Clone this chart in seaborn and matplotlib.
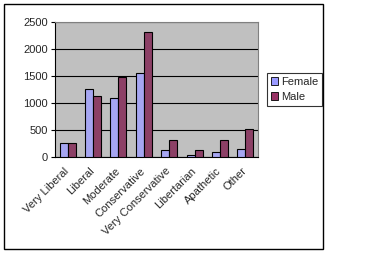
import matplotlib
matplotlib.use("Agg")
import matplotlib.pyplot as plt
import seaborn as sns
import pandas as pd
from matplotlib.patches import Rectangle

categories = ["Very Liberal", "Liberal", "Moderate", "Conservative",
              "Very Conservative", "Libertarian", "Apathetic", "Other"]
female = [255, 1260, 1093, 1558, 125, 37, 87, 143]
male = [255, 1130, 1490, 2315, 311, 125, 311, 516]
series = ["Female", "Male"]
yticks = [0, 500, 1000, 1500, 2000, 2500]

df = pd.DataFrame({
    "category": categories * 2,
    "value": female + male,
    "sex": [series[0]] * len(categories) + [series[1]] * len(categories),
})

sns.set_style("white")
plt.rcParams["font.family"] = ["Liberation Sans", "DejaVu Sans"]

fig = plt.figure(figsize=(3.8, 2.7), dpi=100)
W, H = 380, 270
ax = fig.add_axes([55 / W, 1 - 157 / H, 203 / W, 135 / H])

sns.barplot(data=df, x="category", y="value", hue="sex", order=categories,
            hue_order=series, palette=["#9999FF", "#993366"], width=0.63,
            edgecolor="black", linewidth=0.8, ax=ax, legend=False, zorder=3)

ax.set_facecolor("#C0C0C0")
ax.set_xlim(-0.5, len(categories) - 0.5)
ax.set_ylim(0, 2500)
ax.set_yticks(yticks)
ax.set_yticklabels([str(v) for v in yticks], fontsize=8)
ax.yaxis.grid(True, color="black", linewidth=0.8, zorder=0)
ax.set_axisbelow(True)
ax.set_xlabel("")
ax.set_ylabel("")

ax.set_xticks(range(len(categories)))
ax.set_xticklabels(categories, rotation=45, ha="right", va="center",
                   rotation_mode="anchor", fontsize=8)
ax.set_xticks([i - 0.5 for i in range(len(categories) + 1)], minor=True)
ax.tick_params(axis="x", which="major", length=0, pad=9)
ax.tick_params(axis="x", which="minor", length=3, width=0.8, color="black")
ax.tick_params(axis="y", length=3, width=0.8, color="black", pad=2, left=True)

for s in ["left", "bottom"]:
    ax.spines[s].set_color("black")
    ax.spines[s].set_linewidth(0.8)
for s in ["top", "right"]:
    ax.spines[s].set_color("#808080")
    ax.spines[s].set_linewidth(0.8)

handles = [Rectangle((0, 0), 1, 1, facecolor=c, edgecolor="black", linewidth=0.6)
           for c in ["#9999FF", "#993366"]]
leg = fig.legend(handles, series, loc="upper left",
                 bbox_to_anchor=(267 / W, 1 - 73 / H), fontsize=8,
                 frameon=True, fancybox=False, handlelength=0.6,
                 handleheight=0.6, handletextpad=0.3, borderpad=0.35,
                 labelspacing=0.45, borderaxespad=0)
leg.get_frame().set_edgecolor("black")
leg.get_frame().set_linewidth(0.8)

fig.patches.append(Rectangle((4 / W, 1 - 249 / H), 319 / W, 245 / H,
                             transform=fig.transFigure, fill=False,
                             edgecolor="black", linewidth=1))

fig.savefig("out.png", dpi=100)
